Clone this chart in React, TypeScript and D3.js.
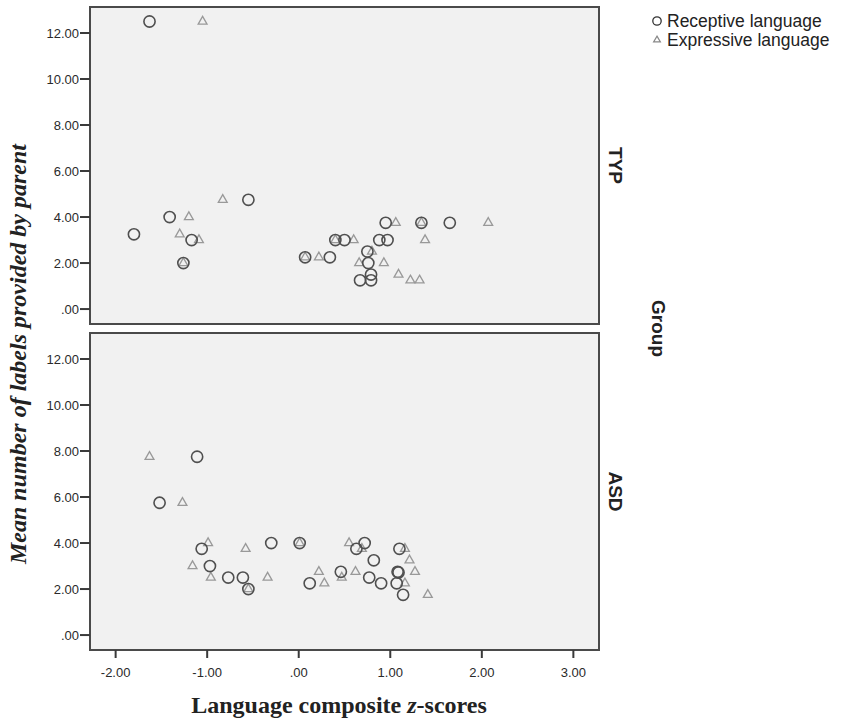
import React from "react";
import * as d3 from "d3";

// [z-score, mean labels]
const TYP_RECEPTIVE: [number, number][] = [
  [-1.63, 12.5], [-0.55, 4.75], [-1.41, 4.0], [-1.8, 3.25], [-1.17, 3.0],
  [-1.26, 2.0], [0.07, 2.25], [0.34, 2.25], [0.4, 3.0], [0.5, 3.0],
  [0.75, 2.5], [0.76, 2.0], [0.79, 1.5], [0.67, 1.25], [0.79, 1.25],
  [0.88, 3.0], [0.97, 3.0], [0.95, 3.75], [1.34, 3.75], [1.65, 3.75],
];
const TYP_EXPRESSIVE: [number, number][] = [
  [-1.05, 12.5], [-0.83, 4.75], [-1.2, 4.0], [-1.3, 3.25], [-1.09, 3.0],
  [-1.26, 2.0], [0.07, 2.25], [0.22, 2.25], [0.4, 3.0], [0.6, 3.0],
  [0.66, 2.0], [0.8, 2.5], [0.93, 2.0], [1.06, 3.75], [1.34, 3.75],
  [2.07, 3.75], [1.38, 3.0], [1.09, 1.5], [1.22, 1.25], [1.32, 1.25],
];
const ASD_RECEPTIVE: [number, number][] = [
  [-1.11, 7.75], [-1.52, 5.75], [-1.06, 3.75], [-0.97, 3.0], [-0.77, 2.5],
  [-0.61, 2.5], [-0.55, 2.0], [-0.3, 4.0], [0.01, 4.0], [0.12, 2.25],
  [0.46, 2.75], [0.72, 4.0], [0.63, 3.75], [0.82, 3.25], [0.77, 2.5],
  [0.9, 2.25], [1.07, 2.25], [1.08, 2.75], [1.09, 2.72], [1.1, 3.75],
  [1.14, 1.75],
];
const ASD_EXPRESSIVE: [number, number][] = [
  [-1.63, 7.75], [-1.27, 5.75], [-0.99, 4.0], [-1.16, 3.0], [-0.96, 2.5],
  [-0.55, 2.0], [-0.58, 3.75], [-0.34, 2.5], [0.01, 4.0], [0.22, 2.75],
  [0.28, 2.25], [0.47, 2.5], [0.55, 4.0], [0.69, 3.75], [0.62, 2.75],
  [1.16, 3.75], [1.21, 3.25], [1.16, 2.25], [1.27, 2.75], [1.41, 1.75],
];

const GROUPS = ["TYP", "ASD"];
const X_TICKS = [-2, -1, 0, 1, 2, 3];
const Y_TICKS = [0, 2, 4, 6, 8, 10, 12];
const LEGEND = ["Receptive language", "Expressive language"];

const W = 843;
const H = 719;
const PANEL_LEFT = 90;
const PANEL_RIGHT = 599;
const PANEL_TOPS = [7, 333];
const PANEL_H = 317;

const sans = "'Liberation Sans', Arial, sans-serif";
const serif = "'Liberation Serif', 'Times New Roman', serif";

// SPSS style: "-2.00", ".00", "1.00"
const fmt = (d: number) => d.toFixed(2).replace(/^(-?)0\./, "$1.");

const triangle = d3.symbol(d3.symbolTriangle, 34)();
const legendTriangle = d3.symbol(d3.symbolTriangle, 20)();

function App() {
  const x = d3.scaleLinear().domain([-2.28, 3.28]).range([PANEL_LEFT, PANEL_RIGHT]);
  const panels = [
    { name: GROUPS[0], rec: TYP_RECEPTIVE, exp: TYP_EXPRESSIVE, top: PANEL_TOPS[0] },
    { name: GROUPS[1], rec: ASD_RECEPTIVE, exp: ASD_EXPRESSIVE, top: PANEL_TOPS[1] },
  ];
  const bottom = PANEL_TOPS[1] + PANEL_H;

  return (
    <svg width={W} height={H} style={{ position: "absolute", left: 0, top: 0, background: "#fff" }}>
      {panels.map((p) => {
        const y = d3.scaleLinear().domain([-0.65, 13.13]).range([p.top + PANEL_H, p.top]);
        return (
          <g key={p.name}>
            <rect x={PANEL_LEFT} y={p.top} width={PANEL_RIGHT - PANEL_LEFT} height={PANEL_H}
              fill="#f1f1f1" stroke="#4a4a4a" strokeWidth={2} />
            {Y_TICKS.map((t) => (
              <g key={t}>
                <line x1={PANEL_LEFT - 10} x2={PANEL_LEFT} y1={y(t)} y2={y(t)} stroke="#3a3a3a" strokeWidth={2} />
                <text x={PANEL_LEFT - 11} y={y(t)} dy="0.35em" textAnchor="end"
                  fontFamily={sans} fontSize={13} fill="#2a2a2a">{fmt(t)}</text>
              </g>
            ))}
            {p.exp.map((d, i) => (
              <path key={"e" + i} d={triangle} transform={`translate(${x(d[0])},${y(d[1])})`}
                fill="none" stroke="#999" strokeWidth={1.3} />
            ))}
            {p.rec.map((d, i) => (
              <circle key={"r" + i} cx={x(d[0])} cy={y(d[1])} r={5.6}
                fill="none" stroke="#4f4f4f" strokeWidth={1.6} />
            ))}
            <text transform={`translate(${PANEL_RIGHT + 10},${p.top + PANEL_H / 2}) rotate(90)`}
              textAnchor="middle" fontFamily={sans} fontWeight="bold" fontSize={19} fill="#222">{p.name}</text>
          </g>
        );
      })}

      {X_TICKS.map((t) => (
        <g key={t}>
          <line x1={x(t)} x2={x(t)} y1={bottom} y2={bottom + 8} stroke="#3a3a3a" strokeWidth={2} />
          <text x={x(t)} y={bottom + 22} dy="0.35em" textAnchor="middle"
            fontFamily={sans} fontSize={13} fill="#2a2a2a">{fmt(t)}</text>
        </g>
      ))}

      <text transform={`translate(652,${(PANEL_TOPS[0] + bottom) / 2}) rotate(90)`}
        textAnchor="middle" fontFamily={sans} fontWeight="bold" fontSize={19} fill="#222">Group</text>

      <text transform="translate(26,354) rotate(-90)" textAnchor="middle" fontFamily={serif}
        fontStyle="italic" fontWeight="bold" fontSize={24} fill="#222">
        Mean number of labels provided by parent
      </text>
      <text x={339} y={713} textAnchor="middle" fontFamily={serif} fontWeight="bold" fontSize={24} fill="#222">
        Language composite <tspan fontStyle="italic">z</tspan>-scores
      </text>

      <g>
        <circle cx={657} cy={21} r={4.2} fill="none" stroke="#333" strokeWidth={1.3} />
        <text x={667} y={27} fontFamily={sans} fontSize={17.5} fill="#222">{LEGEND[0]}</text>
        <path d={legendTriangle} transform="translate(657,40)" fill="none" stroke="#888" strokeWidth={1.2} />
        <text x={667} y={46} fontFamily={sans} fontSize={17.5} fill="#222">{LEGEND[1]}</text>
      </g>
    </svg>
  );
}

export default App;
